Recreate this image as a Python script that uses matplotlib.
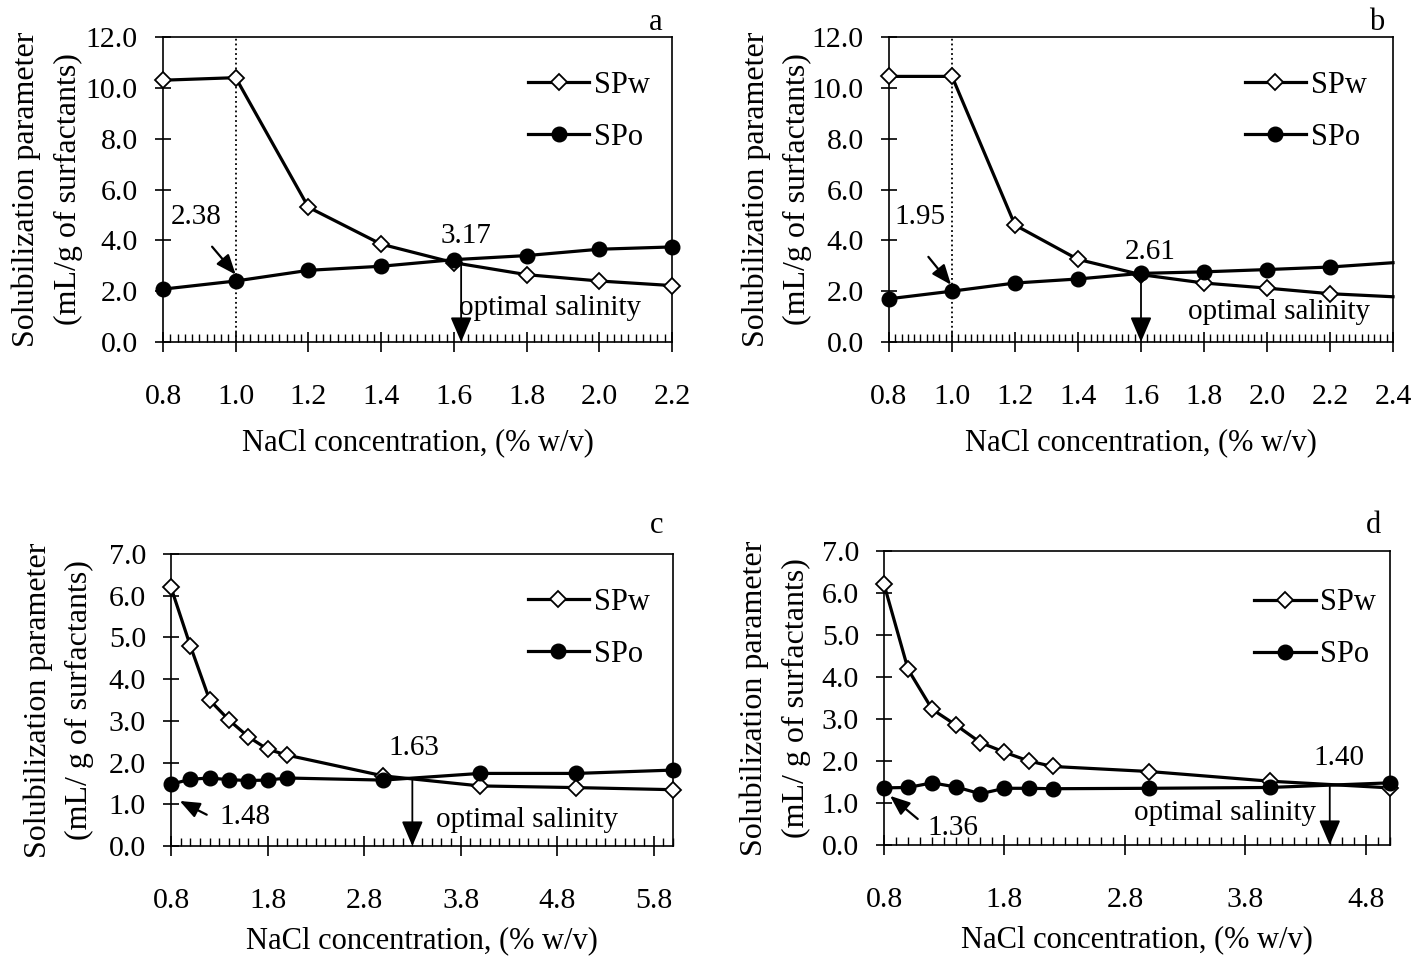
import matplotlib
matplotlib.use("Agg")
import matplotlib.pyplot as plt
from matplotlib.ticker import MultipleLocator, FormatStrFormatter

plt.rcParams['font.family'] = ['Liberation Serif', 'DejaVu Serif']
plt.rcParams['font.size'] = 22

# ---------------- data ----------------
a_x = [0.8, 1.0, 1.2, 1.4, 1.6, 1.8, 2.0, 2.2]
a_spw = [10.30, 10.40, 5.30, 3.85, 3.12, 2.65, 2.40, 2.22]
a_spo = [2.08, 2.40, 2.82, 2.98, 3.24, 3.40, 3.65, 3.74]

b_x = [0.8, 1.0, 1.2, 1.4, 1.6, 1.8, 2.0, 2.2, 2.4]
b_spw = [10.45, 10.45, 4.60, 3.25, 2.65, 2.32, 2.12, 1.90, 1.78]
b_spo = [1.70, 2.00, 2.32, 2.48, 2.70, 2.76, 2.85, 2.95, 3.12]

c_x = [0.8, 1.0, 1.2, 1.4, 1.6, 1.8, 2.0, 3.0, 4.0, 5.0, 6.0]
c_spw = [6.20, 4.80, 3.50, 3.02, 2.62, 2.32, 2.18, 1.68, 1.44, 1.40, 1.35]
c_spo = [1.48, 1.60, 1.63, 1.59, 1.57, 1.58, 1.63, 1.58, 1.74, 1.74, 1.82]

d_x = [0.8, 1.0, 1.2, 1.4, 1.6, 1.8, 2.0, 2.2, 3.0, 4.0, 5.0]
d_spw = [6.21, 4.18, 3.23, 2.85, 2.44, 2.21, 2.00, 1.87, 1.75, 1.52, 1.36]
d_spo = [1.36, 1.37, 1.48, 1.38, 1.22, 1.35, 1.35, 1.34, 1.35, 1.37, 1.48]

series_names = ["SPw", "SPo"]
xlabel = "NaCl concentration, (% w/v)"
ylabel_ab = "Solubilization parameter\n(mL/g of surfactants)"
ylabel_cd = "Solubilization parameter\n(mL/ g of surfactants)"

W, H = 1415, 958
fig = plt.figure(figsize=(W / 100, H / 100), dpi=100)


def ax_px(l, r, t, b):
    return fig.add_axes([l / W, 1 - b / H, (r - l) / W, (b - t) / H])


panels = [
    dict(rect=(163, 672, 37, 342), x=a_x, w=a_spw, o=a_spo, xlim=(0.8, 2.2), ylim=(0, 12),
         xmaj=0.2, xoff=0.0, xmin=0.02, ymaj=2.0, letter='a', lety=1.049, ylabel=ylabel_ab,
         dotted=1.0, skip_last=False, leg=(0.717, 0.889), ylab_x=-0.158, xlab=86),
    dict(rect=(889, 1393, 37, 342), x=b_x, w=b_spw, o=b_spo, xlim=(0.8, 2.4), ylim=(0, 12),
         xmaj=0.2, xoff=0.0, xmin=0.02, ymaj=2.0, letter='b', lety=1.049, ylabel=ylabel_ab,
         dotted=1.0, skip_last=True, leg=(0.706, 0.889), ylab_x=-0.152, xlab=86),
    dict(rect=(171, 673, 554, 846), x=c_x, w=c_spw, o=c_spo, xlim=(0.8, 6.0), ylim=(0, 7),
         xmaj=1.0, xoff=0.8, xmin=0.1, ymaj=1.0, letter='c', lety=1.099, ylabel=ylabel_cd,
         dotted=None, skip_last=False, leg=(0.711, 0.883), ylab_x=-0.153, xlab=80),
    dict(rect=(884, 1390, 551, 845), x=d_x, w=d_spw, o=d_spo, xlim=(0.8, 5.0), ylim=(0, 7),
         xmaj=1.0, xoff=0.8, xmin=0.1, ymaj=1.0, letter='d', lety=1.088, ylabel=ylabel_cd,
         dotted=None, skip_last=False, leg=(0.732, 0.873), ylab_x=-0.145, xlab=80),
]

axes = []
for p in panels:
    l, r, t, b = p['rect']
    ax = ax_px(l, r, t, b)
    axes.append(ax)
    n = len(p['x'])
    mk = list(range(n - 1)) if p['skip_last'] else list(range(n))
    ax.plot(p['x'], p['w'], color='black', lw=2.3, marker='D', ms=8.0, mfc='white',
            mec='black', mew=1.3, markevery=mk, clip_on=False, zorder=3, label=series_names[0])
    ax.plot(p['x'], p['o'], color='black', lw=2.3, marker='o', ms=10.5, mfc='black',
            mec='black', markevery=mk, clip_on=False, zorder=4, label=series_names[1])
    ax.set_xlim(*p['xlim'])
    ax.set_ylim(*p['ylim'])
    ax.xaxis.set_major_locator(MultipleLocator(p['xmaj'], offset=p['xoff']))
    ax.xaxis.set_minor_locator(MultipleLocator(p['xmin']))
    ax.yaxis.set_major_locator(MultipleLocator(p['ymaj']))
    ax.yaxis.set_major_formatter(FormatStrFormatter('%.1f'))
    ax.xaxis.set_major_formatter(FormatStrFormatter('%.1f'))
    ax.tick_params(axis='x', which='major', direction='inout', length=14, width=1.2, pad=23,
                   labelsize=21.5)
    ax.tick_params(axis='x', which='minor', direction='in', length=6, width=1.0)
    ax.tick_params(axis='y', which='major', direction='inout', length=12, width=1.2, pad=12,
                   labelsize=21.5)
    for s in ax.spines.values():
        s.set_linewidth(1.2)
    if p['dotted'] is not None:
        ax.axvline(p['dotted'], color='black', ls=':', lw=1.3, zorder=1)
    ax.set_xlabel(xlabel, fontsize=22)
    ax.xaxis.set_label_coords(0.5, -p['xlab'] / (b - t))
    ax.set_ylabel(p['ylabel'], fontsize=23, linespacing=1.55)
    ax.yaxis.set_label_coords(p['ylab_x'], 0.5)
    ax.text(0.967, p['lety'], p['letter'], transform=ax.transAxes,
            ha='center', va='center', fontsize=22)
    ax.legend(loc='upper left', bbox_to_anchor=p['leg'], frameon=False, fontsize=22,
              handlelength=2.0, handletextpad=0.15, labelspacing=0.75, borderpad=0,
              borderaxespad=0)

arrow_head = dict(arrowstyle='-|>,head_length=0.7,head_width=0.3', color='black', lw=1.3,
                  shrinkA=0, shrinkB=0)
arrow_small = dict(arrowstyle='-|>,head_length=0.55,head_width=0.22', color='black', lw=1.6,
                   shrinkA=0, shrinkB=0)
fs = 21

# panel a
ax = axes[0]
ax.text(0.89, 4.9, "2.38", ha='center', va='center', fontsize=fs)
ax.annotate("", xy=(1.0, 2.65), xytext=(0.935, 3.75), arrowprops=arrow_small)
ax.text(1.633, 4.17, "3.17", ha='center', va='center', fontsize=fs)
ax.annotate("", xy=(1.62, 0.0), xytext=(1.62, 3.2), arrowprops=arrow_head)
ax.text(1.615, 1.34, "optimal salinity", ha='left', va='center', fontsize=fs)

# panel b
ax = axes[1]
ax.text(0.898, 4.9, "1.95", ha='center', va='center', fontsize=fs)
ax.annotate("", xy=(0.997, 2.25), xytext=(0.925, 3.35), arrowprops=arrow_small)
ax.text(1.63, 3.55, "2.61", ha='center', va='center', fontsize=fs)
ax.annotate("", xy=(1.6, 0.0), xytext=(1.6, 2.7), arrowprops=arrow_head)
ax.text(1.749, 1.18, "optimal salinity", ha='left', va='center', fontsize=fs)

# panel c
ax = axes[2]
ax.text(1.30, 0.70, "1.48", ha='left', va='center', fontsize=fs)
ax.annotate("", xy=(0.89, 1.08), xytext=(1.17, 0.75), arrowprops=arrow_small)
ax.text(3.32, 2.35, "1.63", ha='center', va='center', fontsize=fs)
ax.annotate("", xy=(3.30, 0.0), xytext=(3.30, 1.58), arrowprops=arrow_head)
ax.text(3.55, 0.62, "optimal salinity", ha='left', va='center', fontsize=fs)

# panel d
ax = axes[3]
ax.text(1.164, 0.41, "1.36", ha='left', va='center', fontsize=fs)
ax.annotate("", xy=(0.85, 1.17), xytext=(1.08, 0.62), arrowprops=arrow_small)
ax.text(4.58, 2.07, "1.40", ha='center', va='center', fontsize=fs)
ax.annotate("", xy=(4.50, 0.0), xytext=(4.50, 1.40), arrowprops=arrow_head)
ax.text(4.39, 0.77, "optimal salinity", ha='right', va='center', fontsize=fs)

fig.savefig("out.png", dpi=100)
